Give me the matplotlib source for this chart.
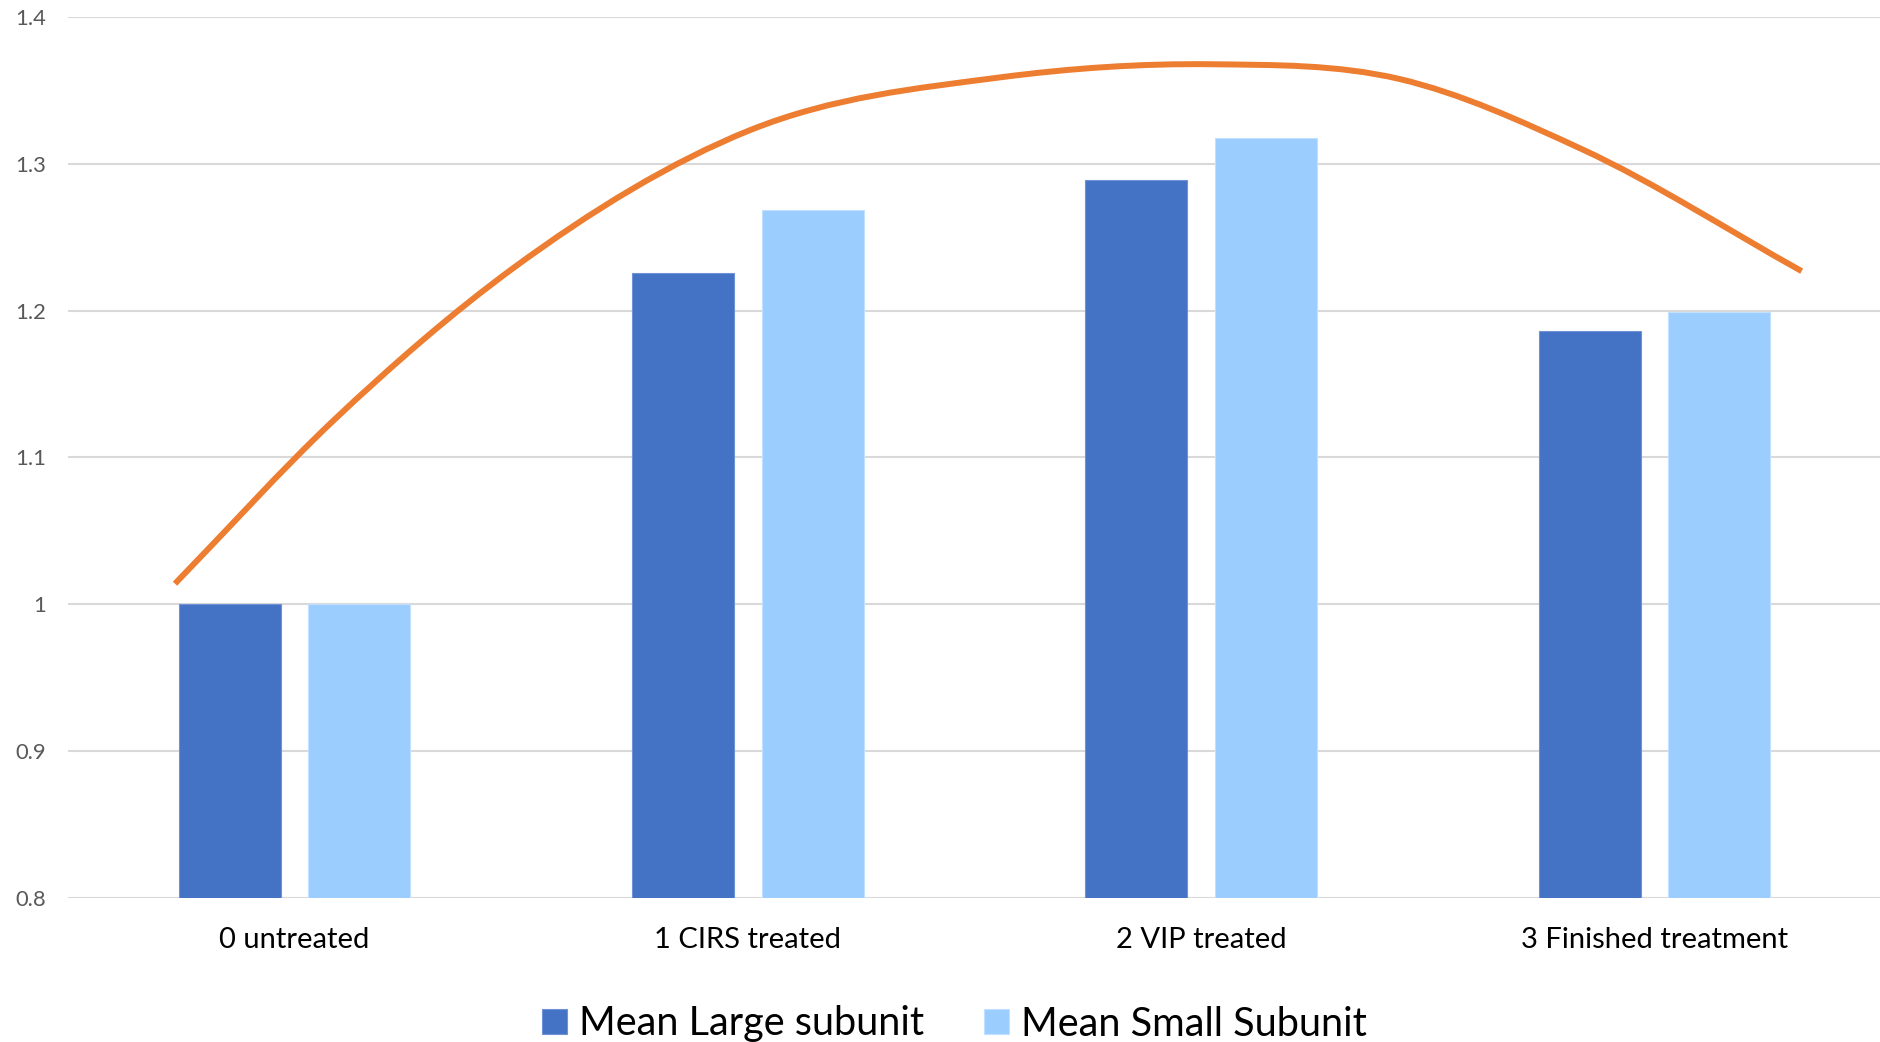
import matplotlib
matplotlib.use("Agg")
import matplotlib.pyplot as plt
from matplotlib.path import Path
from matplotlib.patches import PathPatch
import numpy as np

# Category labels and mean values per subunit
categories = ["0 untreated", "1 CIRS treated", "2 VIP treated", "3 Finished treatment"]
mean_large = [1.000, 1.226, 1.289, 1.186]
mean_small = [1.000, 1.269, 1.318, 1.199]
series_names = ["Mean Large subunit", "Mean Small Subunit"]

# Trend curve points (x in category units, y in value units)
trend_x = [-0.264, 0.085, 0.482, 1.004, 1.555, 2.024, 2.437, 2.841, 3.325]
trend_y = [1.014, 1.125, 1.229, 1.323, 1.359, 1.368, 1.358, 1.310, 1.227]

y_ticks = [0.8, 0.9, 1.0, 1.1, 1.2, 1.3, 1.4]
y_tick_labels = ["0.8", "0.9", "1", "1.1", "1.2", "1.3", "1.4"]

plt.rcParams["font.family"] = ["Lato", "DejaVu Sans"]


def smooth_path(xs, ys):
    """Cubic Bezier path through every point, tangents from neighbouring slopes."""
    xs = np.asarray(xs, float)
    ys = np.asarray(ys, float)
    n = len(xs)
    h = np.diff(xs)
    d = np.diff(ys) / h
    m = np.empty(n)
    m[0], m[-1] = d[0], d[-1]
    for i in range(1, n - 1):
        m[i] = (h[i] * d[i - 1] + h[i - 1] * d[i]) / (h[i - 1] + h[i])
    verts = [(xs[0], ys[0])]
    codes = [Path.MOVETO]
    for i in range(n - 1):
        t = h[i] / 3.0
        verts += [(xs[i] + t, ys[i] + t * m[i]),
                  (xs[i + 1] - t, ys[i + 1] - t * m[i + 1]),
                  (xs[i + 1], ys[i + 1])]
        codes += [Path.CURVE4] * 3
    return Path(verts, codes)


fig = plt.figure(figsize=(18.81, 10.42), dpi=100)
ax = fig.add_axes([68 / 1881, (1042 - 897.7) / 1042, 1 - 68 / 1881, (897.7 - 17.3) / 1042])

x = np.arange(len(categories))
bw = 0.225
off = 0.143
b1 = ax.bar(x - off, [v - 0.8 for v in mean_large], bottom=0.8, width=bw,
            color="#4472C4", edgecolor="#6F93D6", linewidth=0.8, zorder=2,
            label=series_names[0])
b2 = ax.bar(x + off, [v - 0.8 for v in mean_small], bottom=0.8, width=bw,
            color="#9BCDFF", edgecolor="#C2E0FF", linewidth=0.8, zorder=2,
            label=series_names[1])

ax.add_patch(PathPatch(smooth_path(trend_x, trend_y), facecolor="none",
                       edgecolor="#ED7D31", linewidth=4.3, capstyle="butt", zorder=3))

ax.set_xlim(-0.5, 3.5)
ax.set_ylim(0.8, 1.4)
ax.set_yticks(y_ticks)
ax.set_yticklabels(y_tick_labels)
ax.set_xticks(x)
ax.set_xticklabels(categories)
ax.yaxis.grid(True, color="#D9D9D9", linewidth=1.5, zorder=0)
ax.set_axisbelow(True)
for s in ax.spines.values():
    s.set_visible(False)
ax.tick_params(axis="both", length=0)
ax.tick_params(axis="y", labelsize=15.8, labelcolor="#595959", pad=16)
ax.tick_params(axis="x", labelsize=21, labelcolor="#000000", pad=21)

leg = fig.legend(handles=[b1, b2], labels=series_names, loc="center",
                 bbox_to_anchor=(0.5 + 14 / 1881, 1 - 1024 / 1042), ncol=2, frameon=False,
                 fontsize=28.5, handlelength=0.62, handleheight=0.62, handletextpad=0.3,
                 columnspacing=1.53, borderaxespad=0)

fig.savefig("out.png", dpi=100, facecolor="white")
